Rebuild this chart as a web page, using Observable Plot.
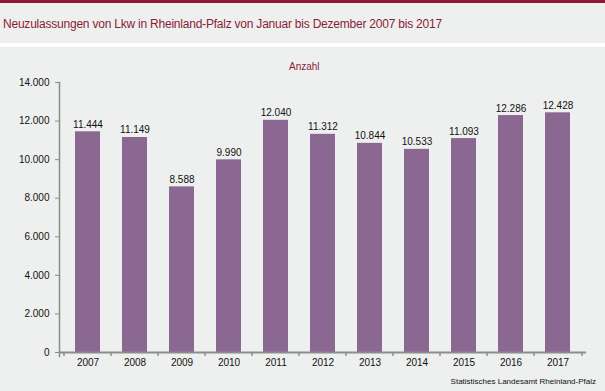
<!DOCTYPE html>
<html>
<head>
<meta charset="utf-8">
<script src="https://cdn.jsdelivr.net/npm/d3@7"></script>
<script src="https://cdn.jsdelivr.net/npm/@observablehq/plot@0.6"></script>
<style>
  html, body { margin: 0; padding: 0; }
  body { width: 605px; height: 391px; background: #eef0ef; position: relative; overflow: hidden; font-family: "Liberation Sans", Arial, sans-serif; }
  #topbar { position: absolute; left: 0; top: 0; width: 605px; height: 3px; background: #8b1b36; }
  #title { position: absolute; left: 3px; top: 15.8px; font-size: 12px; line-height: 16px; letter-spacing: -0.22px; color: #8b1b36; white-space: nowrap; }
  #sep { position: absolute; left: 0; top: 43px; width: 605px; height: 4px; background: #ffffff; }
  #chart { position: absolute; left: 0; top: 48px; }
  #unit { position: absolute; left: 289px; top: 60.5px; font-size: 10px; line-height: 12px; color: #8b1b36; }
  #source { position: absolute; right: 9px; top: 377px; font-size: 8px; line-height: 10px; color: #111; white-space: nowrap; }
</style>
</head>
<body>
<div id="topbar"></div>
<div id="title">Neuzulassungen von Lkw in Rheinland-Pfalz von Januar bis Dezember 2007 bis 2017</div>
<div id="sep"></div>
<div id="chart"></div>
<div id="unit">Anzahl</div>
<div id="source">Statistisches Landesamt Rheinland-Pfalz</div>
<script>
const years = ["2007","2008","2009","2010","2011","2012","2013","2014","2015","2016","2017"];
const values = [11444, 11149, 8588, 9990, 12040, 11312, 10844, 10533, 11093, 12286, 12428];
const yTicks = [0, 2000, 4000, 6000, 8000, 10000, 12000, 14000];

const de = d3.formatLocale({decimal: ",", thousands: ".", grouping: [3], currency: ["", " €"]});
const fmt = de.format(",d");

const data = years.map((y, i) => ({year: y, value: values[i]}));

const chart = Plot.plot({
  width: 605,
  height: 343,
  marginLeft: 59,
  marginRight: 19,
  marginTop: 34,
  marginBottom: 39,
  style: {background: "transparent", fontFamily: "'Liberation Sans', Arial, sans-serif", fontSize: "10px", color: "#111"},
  x: {domain: years, paddingInner: 0.458, paddingOuter: 0.229, label: null},
  y: {domain: [0, 14000], ticks: yTicks, tickFormat: fmt, label: null},
  marks: [
    Plot.barY(data, {x: "year", y: "value", fill: "#8b6891"}),
    Plot.text(data, {x: "year", y: "value", text: d => fmt(d.value), lineAnchor: "bottom", dy: -4, fill: "#111", fontSize: 10}),
    Plot.frame({anchor: "left", stroke: "#8c8c8c", strokeWidth: 1.5, insetBottom: -4}),
    Plot.tickX(years, {x: d => d, dx: -24, stroke: "#8c8c8c", strokeWidth: 1.5, insetTop: 270, insetBottom: -4}),
    Plot.tickX(years.slice(-1), {x: d => d, dx: 24, stroke: "#8c8c8c", strokeWidth: 1.5, insetTop: 270, insetBottom: -4}),
    Plot.ruleY([0], {stroke: "#8c8c8c", strokeWidth: 2}),
    Plot.axisY({ticks: yTicks, tickFormat: fmt, tickSize: 4, tickPadding: 6, stroke: "#8c8c8c", fill: "#111", fontSize: 10, label: null}),
    Plot.axisX({tickSize: 0, tickPadding: 6, fill: "#111", fontSize: 10, label: null})
  ]
});
document.getElementById("chart").appendChild(chart);
</script>
</body>
</html>
